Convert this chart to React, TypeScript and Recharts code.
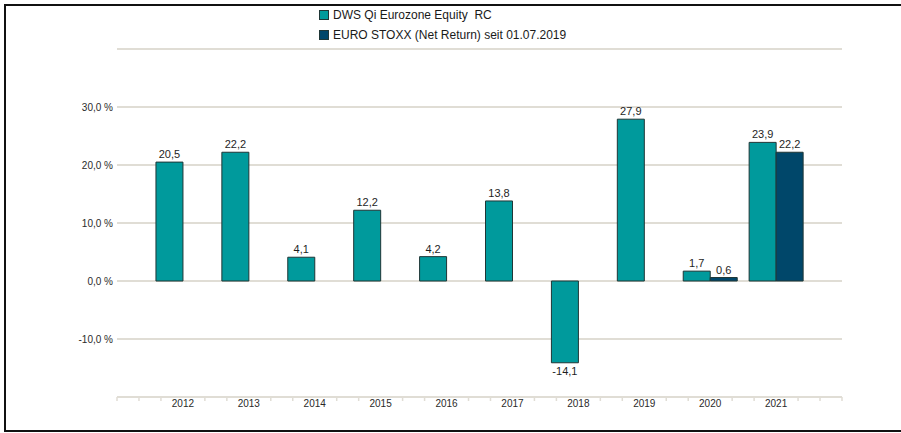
import { BarChart, Bar, XAxis, YAxis, CartesianGrid, Legend, LabelList } from "recharts";

const years = ["2012", "2013", "2014", "2015", "2016", "2017", "2018", "2019", "2020", "2021"];
const fundValues = [20.5, 22.2, 4.1, 12.2, 4.2, 13.8, -14.1, 27.9, 1.7, 23.9];
const indexValues: (number | null)[] = [null, null, null, null, null, null, null, null, 0.6, 22.2];
const yTicks = [-20, -10, 0, 10, 20, 30, 40];

const FUND_NAME = "DWS Qi Eurozone Equity  RC";
const INDEX_NAME = "EURO STOXX (Net Return) seit 01.07.2019";

const data = years.map((y, i) => ({ year: y, fund: fundValues[i], index: indexValues[i] }));

const W = 901;
const H = 433;
const M = { top: 49, right: 59, left: 0, bottom: 6 };
const Y_W = 117;
const PLOT_W = W - M.left - M.right - Y_W;
const BAND = PLOT_W / (years.length + 1);
const STEP = BAND / 3;

const C_FUND = "#009a9c";
const C_INDEX = "#00476a";
const C_EDGE = "#1f3636";
const C_GRID = "#e0ddd5";
const C_TEXT = "#2a2a2a";
const FONT = "'Liberation Sans', Arial, sans-serif";

const fmt = (v: number) => v.toFixed(1).replace(".", ",");

function XTick({ x, y, payload, index, visibleTicksCount }: any) {
  const offs = [-STEP, STEP];
  if (index === 0) offs.push(-2 * STEP, -3 * STEP);
  if (index === visibleTicksCount - 1) offs.push(2 * STEP, 3 * STEP);
  return (
    <g>
      {offs.map((o, i) => (
        <line key={i} x1={x + o} x2={x + o} y1={y} y2={y + 4} stroke={C_GRID} strokeWidth={1.5} />
      ))}
      <text x={x} y={y + 10} textAnchor="middle" fontSize={10} fill={C_TEXT} fontFamily={FONT}>
        {payload.value}
      </text>
    </g>
  );
}

function ValueLabel({ x, y, width, height, value }: any) {
  if (value === null || value === undefined) return null;
  const top = Math.min(y, y + height);
  const bottom = Math.max(y, y + height);
  const ty = value < 0 ? bottom + 12 : top - 4;
  return (
    <text x={x + width / 2} y={ty} textAnchor="middle" fontSize={11} fill="#1e1e1e" fontFamily={FONT}>
      {fmt(value)}
    </text>
  );
}

function LegendBox() {
  const rows = [
    { name: FUND_NAME, color: C_FUND },
    { name: INDEX_NAME, color: C_INDEX },
  ];
  return (
    <div style={{ fontFamily: FONT, fontSize: 12, color: "#1a1a1a" }}>
      {rows.map((r) => (
        <div key={r.name} style={{ display: "flex", alignItems: "center", height: 20 }}>
          <span
            style={{
              display: "inline-block",
              width: 8,
              height: 8,
              background: r.color,
              border: `1px solid ${C_EDGE}`,
              marginRight: 4,
            }}
          />
          <span style={{ whiteSpace: "pre" }}>{r.name}</span>
        </div>
      ))}
    </div>
  );
}

export default function App() {
  return (
    <div style={{ position: "absolute", top: 0, left: 0, width: W, height: H, background: "#fff" }}>
      <div
        style={{
          position: "absolute",
          left: 4,
          top: 4,
          width: W - 4,
          height: H - 9,
          borderLeft: "2px solid #111",
          borderTop: "2px solid #111",
          borderBottom: "2px solid #111",
        }}
      />
      <BarChart width={W} height={H} data={data} margin={M} barGap={0} barSize={27}>
        <CartesianGrid horizontal vertical={false} stroke={C_GRID} strokeWidth={2} />
        <XAxis
          dataKey="year"
          height={30}
          padding={{ left: BAND / 2, right: BAND / 2 }}
          axisLine={{ stroke: C_GRID, strokeWidth: 2 }}
          tickLine={false}
          tickSize={0}
          tickMargin={0}
          interval={0}
          tick={<XTick />}
        />
        <YAxis
          width={Y_W}
          domain={[-20, 40]}
          ticks={yTicks}
          interval={0}
          axisLine={false}
          tickLine={false}
          tickSize={4}
          tickMargin={0}
          tick={{ fontSize: 10, fill: C_TEXT, fontFamily: FONT }}
          tickFormatter={(v: number) => (v === 40 || v === -20 ? "" : `${fmt(v)} %`)}
        />
        <Legend
          layout="horizontal"
          verticalAlign="middle"
          align="center"
          wrapperStyle={{ top: 5, left: 319, width: "auto" }}
          content={<LegendBox />}
        />
        <Bar dataKey="fund" name={FUND_NAME} fill={C_FUND} stroke={C_EDGE} strokeWidth={1} isAnimationActive={false}>
          <LabelList dataKey="fund" content={<ValueLabel />} />
        </Bar>
        <Bar dataKey="index" name={INDEX_NAME} fill={C_INDEX} stroke={C_EDGE} strokeWidth={1} isAnimationActive={false}>
          <LabelList dataKey="index" content={<ValueLabel />} />
        </Bar>
      </BarChart>
    </div>
  );
}
